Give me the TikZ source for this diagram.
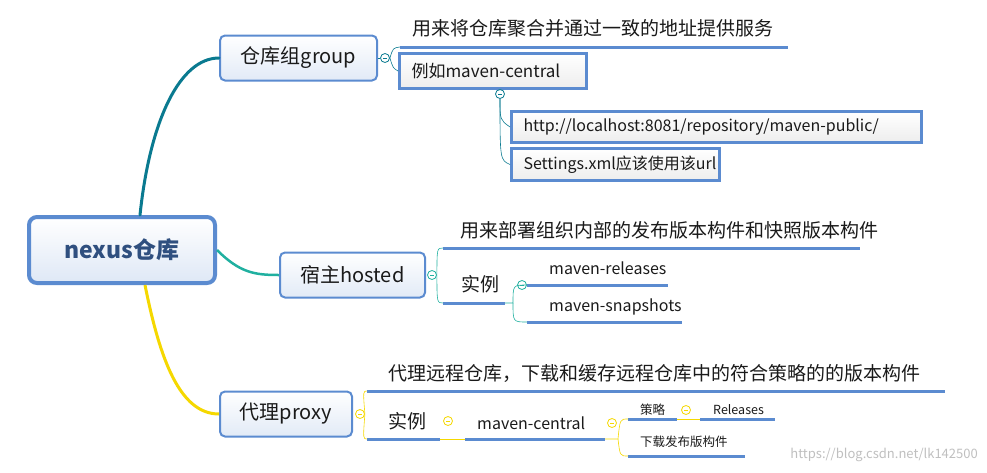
\documentclass[tikz,border=0pt]{standalone}
\usepackage{fontspec}
\setmainfont{Noto Sans CJK SC}
\usetikzlibrary{positioning}
\definecolor{bl}{HTML}{5B8BD0}
\definecolor{tl}{HTML}{0A7A90}
\definecolor{gr}{HTML}{20B0A0}
\definecolor{ye}{HTML}{F5D800}
\definecolor{tx}{HTML}{1A1A1A}
\definecolor{rt}{HTML}{2F4F7F}
\tikzset{
  topic/.style={draw=bl,line width=2pt,rounded corners=5pt,top color=white!100,bottom color=bl!18,font=\fontsize{20}{20}\selectfont,text=tx,inner sep=0pt},
  sbox/.style={draw=bl,line width=3pt,top color=white,bottom color=black!7,font=\fontsize{17}{17}\selectfont,text=tx,inner xsep=12pt,inner ysep=0pt,anchor=north west,align=left},
  lbl/.style={font=\fontsize{19}{19}\selectfont,text=tx,anchor=base west,inner sep=0pt},
  slbl/.style={font=\fontsize{16}{16}\selectfont,text=tx,anchor=base west,inner sep=0pt},
  tlbl/.style={font=\fontsize{12.5}{12.5}\selectfont,text=tx,anchor=base west,inner sep=0pt},
  ul/.style={bl,line width=3pt},
  col/.style={circle,draw=#1,fill=white,line width=0.8pt,minimum size=9pt,inner sep=0pt,path picture={\draw[#1,line width=0.8pt] ([xshift=-2pt]path picture bounding box.center)--([xshift=2pt]path picture bounding box.center);}},
}
\begin{document}
\begin{tikzpicture}[x=1pt,y=-1pt]
\useasboundingbox (0,0) rectangle (987,472);
% root
\node[draw=bl,line width=4pt,rounded corners=8pt,top color=white,bottom color=bl!20,minimum width=186pt,minimum height=66pt,font=\bfseries\fontsize{23}{23}\selectfont,text=rt] (root) at (122,250) {nexus仓库};
% topics
\node[topic,minimum width=157pt,minimum height=45pt] (grp) at (298.5,58) {仓库组group};
\node[topic,minimum width=145pt,minimum height=45pt] (hst) at (352.5,275) {宿主hosted};
\node[topic,minimum width=132pt,minimum height=45pt] (prx) at (286,414) {代理proxy};
% main branches
\draw[tl,line width=3pt,line cap=round] ([xshift=18pt]root.north) .. controls (150,120) and (180,58) .. (grp.west);
\draw[gr,line width=2.5pt] (root.east) .. controls (240,273) and (255,275) .. (hst.west);
\draw[ye,line width=3pt] ([xshift=23pt]root.south) .. controls (160,360) and (180,414) .. (prx.west);

% ===== group
\node[col=tl] (cg) at (385,58) {};
\draw[tl,line width=0.6pt] (grp.east)--(cg.west);
\coordinate (g1) at (400,47);
\node[lbl] (gt) at (412,35) {用来将仓库聚合并通过一致的地址提供服务};
\draw[ul] (g1)--(788,47);
\node[sbox,text width=163pt,minimum height=35pt] (gex) at (398,52) {例如maven-central};
\draw[tl,line width=0.6pt] (cg.east) .. controls (393,48) .. (g1);
\draw[tl,line width=0.6pt] (cg.east) .. controls (393,68) .. (gex.west);
\node[col=tl] (cg2) at (500,94) {};
\node[sbox,text width=386pt,minimum height=31pt,font=\fontsize{16}{16}\selectfont] (url) at (510,110) {http://localhost:8081/repository/maven-public/};
\node[sbox,text width=184pt,minimum height=32pt,font=\fontsize{16}{16}\selectfont] (set) at (510,147) {Settings.xml应该使用该url};
\draw[tl,line width=0.6pt] (cg2.south) .. controls (500,120) .. (url.west);
\draw[tl,line width=0.6pt] (cg2.south) .. controls (500,160) .. (set.west);

% ===== hosted
\node[col=gr] (ch) at (432,275) {};
\coordinate (h1) at (443,248);
\coordinate (h2) at (443,303);
\node[lbl] (ht) at (460,237) {用来部署组织内部的发布版本构件和快照版本构件};
\draw[ul] (h1)--(860,248);
\node[lbl] (hs) at (461,291) {实例};
\draw[ul] (h2)--(505,303);
\draw[gr,line width=0.6pt] (ch.east) .. controls (437,248) .. (h1);
\draw[gr,line width=0.6pt] (ch.east) .. controls (437,303) .. (h2);
\node[col=gr] (ch2) at (522,285) {};
\coordinate (h3) at (527,285);
\coordinate (h4) at (527,322);
\node[slbl] (hr) at (549,274) {maven-releases};
\draw[ul] (h3)--(668,285);
\node[slbl] (hn) at (549,311) {maven-snapshots};
\draw[ul] (h4)--(682,322);
\draw[gr,line width=0.6pt] (505,303)--(513,303) .. controls (513,285) .. (h3);
\draw[gr,line width=0.6pt] (513,303) .. controls (513,322) .. (h4);

% ===== proxy
\node[col=ye] (cp) at (360,414) {};
\coordinate (p1) at (367,391);
\coordinate (p2) at (367,439);
\node[lbl] (pt) at (388,380) {代理远程仓库，下载和缓存远程仓库中的符合策略的的版本构件};
\draw[ul] (p1)--(945,391);
\node[lbl] (ps) at (388,428) {实例};
\draw[ul] (p2)--(440,439);
\draw[ye,line width=0.6pt] (cp.east) .. controls (363,391) .. (p1);
\draw[ye,line width=0.6pt] (cp.east) .. controls (363,439) .. (p2);
\node[col=ye] (cp2) at (448,421) {};
\node[slbl] (pm) at (477,429) {maven-central};
\draw[ul] (465,439)--(605,439);
\draw[ye,line width=0.6pt] (440,439)--(465,439);
\node[col=ye] (cp3) at (612,423) {};
\coordinate (p3) at (628,419);
\coordinate (p4) at (628,456);
\node[tlbl] (pc) at (640,414) {策略};
\draw[ul] (p3)--(677,419);
\node[col=ye] (cp4) at (686,410) {};
\node[tlbl] (pr) at (713,414) {Releases};
\draw[ul] (700,419)--(775,419);
\draw[ye,line width=0.6pt] (677,419)--(700,419);
\node[tlbl] (pd) at (640,446) {下载发布版构件};
\draw[ul] (p4)--(745,456);
\draw[ye,line width=0.6pt] (605,439)--(618,439) .. controls (620,419) .. (p3);
\draw[ye,line width=0.6pt] (618,439) .. controls (620,456) .. (p4);

\node[font=\fontsize{13}{13}\selectfont,text=black!25,anchor=base east,inner sep=0pt] (wm) at (978,458) {https://blog.csdn.net/lk142500};
\end{tikzpicture}
\end{document}
